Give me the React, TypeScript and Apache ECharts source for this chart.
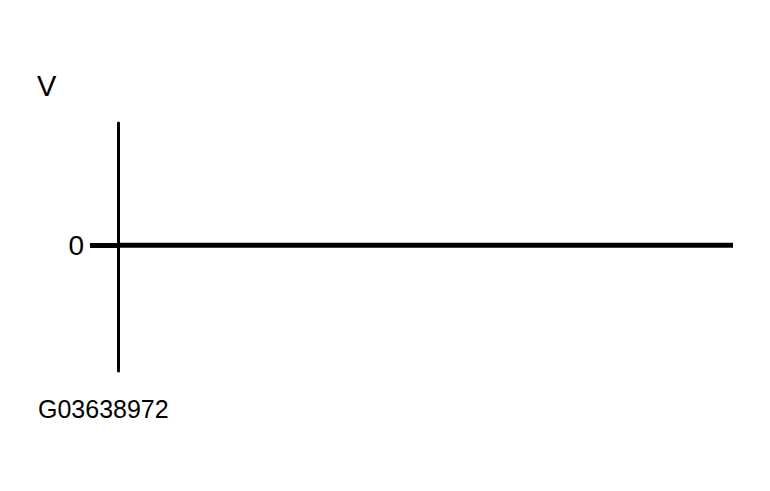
import { useEffect, useRef } from 'react';
import * as echarts from 'echarts';

const xRange = [0, 1];
const signalLevel = [0, 0];
const yTickValues = [0];
const axisUnit = 'V';
const figureId = 'G03638972';

export default function App() {
    const chartRef = useRef<HTMLDivElement>(null);

    useEffect(() => {
        if (!chartRef.current) return;
        const chart = echarts.init(chartRef.current, undefined, { renderer: 'svg' });

        const option = {
            animation: false,
            backgroundColor: '#ffffff',
            textStyle: { fontFamily: 'Liberation Sans, Arial, sans-serif' },
            title: [
                {
                    text: axisUnit,
                    left: 32,
                    top: 66,
                    textStyle: { fontSize: 29, fontWeight: 'normal', color: '#000' }
                },
                {
                    text: figureId,
                    left: 33,
                    top: 391,
                    textStyle: { fontSize: 25, fontWeight: 'normal', color: '#000' }
                }
            ],
            grid: { left: 118, right: 37, top: 123, bottom: 120 },
            xAxis: {
                type: 'value',
                min: xRange[0],
                max: xRange[1],
                show: false
            },
            yAxis: {
                type: 'value',
                min: -1.03,
                max: 1,
                splitLine: { show: false },
                axisLine: { show: true, lineStyle: { color: '#000', width: 3 } },
                axisTick: {
                    show: true,
                    customValues: yTickValues,
                    length: 28,
                    lineStyle: { color: '#000', width: 5 }
                },
                axisLabel: {
                    customValues: yTickValues,
                    margin: 34,
                    fontSize: 28,
                    color: '#000'
                }
            },
            series: [
                {
                    type: 'line',
                    data: xRange.map((x, i) => [x, signalLevel[i]]),
                    symbol: 'none',
                    lineStyle: { color: '#000', width: 5 }
                }
            ]
        };

        chart.setOption(option);
        return () => chart.dispose();
    }, []);

    return (
        <div
            ref={chartRef}
            style={{ position: 'absolute', left: 0, top: 0, width: '770px', height: '491px' }}
        />
    );
}
